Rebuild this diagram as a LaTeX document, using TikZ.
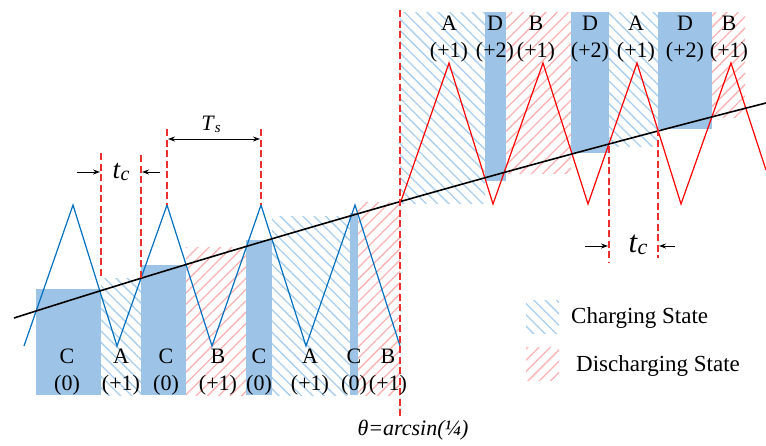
\documentclass[tikz,border=0pt]{standalone}
\usepackage{fontspec}
\setmainfont{Liberation Serif}
\usetikzlibrary{patterns.meta,arrows.meta}
\definecolor{fillblue}{RGB}{157,195,230}
\definecolor{hatchblue}{RGB}{170,206,238}
\definecolor{hatchred}{RGB}{250,178,178}
\definecolor{waveblue}{RGB}{0,112,192}
\definecolor{dashred}{RGB}{238,45,45}
\newcommand{\subtc}[3]{{\fontsize{#1}{#1}\selectfont\textit{#2}}\raisebox{-0.22em}{\fontsize{#3}{#3}\selectfont\textit{c}}}
\begin{document}
\begin{tikzpicture}[x=1pt,y=-1pt,
  chg/.style={pattern={Lines[angle=-45,distance=8pt,line width=1.3pt]},pattern color=hatchblue},
  dchg/.style={pattern={Lines[angle=45,distance=8pt,line width=1.3pt]},pattern color=hatchred},
  zerobox/.style={fill=fillblue},
  lbl/.style={font=\fontsize{22}{26}\selectfont, anchor=base, inner sep=0pt},
  leg/.style={font=\fontsize{23}{27}\selectfont, anchor=base west, inner sep=0pt},
  guide/.style={dashred, line width=1.3pt, dash pattern=on 7pt off 3.5pt},
  dimarrow/.style={line width=1pt, -{Stealth[length=7pt,width=5pt]}},
  dimboth/.style={line width=1pt, {Stealth[length=7pt,width=5pt]}-{Stealth[length=7pt,width=5pt]}},
]
\useasboundingbox (0,0) rectangle (766,445);

% ---- left region (bottom at 395)
\path[zerobox] (36,289) rectangle (101,395);
\path[chg]     (101,278) rectangle (141,395);
\path[zerobox] (141,265) rectangle (186,395);
\path[dchg]    (186,247) rectangle (246,395);
\path[zerobox] (246,240) rectangle (272,395);
\path[chg]     (272,216) rectangle (350,395);
\path[zerobox] (350,213) rectangle (358,395);
\path[dchg]    (358,202) rectangle (400,395);

% ---- right region (top at 12)
\path[chg]     (400,12) rectangle (485,203);
\path[zerobox] (485,12) rectangle (506,181);
\path[dchg]    (506,12) rectangle (571,173);
\path[zerobox] (571,12) rectangle (609,153);
\path[chg]     (609,12) rectangle (658,146);
\path[zerobox] (658,12) rectangle (712,129);
\path[dchg]    (712,12) rectangle (745,117);

% ---- carriers
\draw[waveblue, line width=1.2pt, line join=miter]
  (24,346) -- (73,205) -- (117,346) -- (167,205) -- (212,346) -- (261,205)
  -- (306,346) -- (355,205) -- (400,346);
\draw[red, line width=1.2pt, line join=miter]
  (400,204) -- (449,63) -- (493,204) -- (543,63) -- (588,204) -- (637,63)
  -- (681,204) -- (731,63) -- (766,170);

% ---- reference
\draw[black, line width=1.6pt] (14,318) .. controls (265,238) and (515,167) .. (766,103);

% ---- guide lines
\draw[guide] (101,153) -- (101,278);
\draw[guide] (141,155) -- (141,278);
\draw[guide] (167,129) -- (167,205);
\draw[guide] (261,129) -- (261,205);
\draw[guide] (400,10) -- (400,417);
\draw[guide] (609,146) -- (609,262);
\draw[guide] (658,129) -- (658,258);

% ---- dimension arrows
\coordinate (tcLa) at (77,172);  \coordinate (tcLb) at (100,172);
\coordinate (tcLc) at (160,172); \coordinate (tcLd) at (142,172);
\coordinate (tsA) at (168,139);  \coordinate (tsB) at (260,139);
\coordinate (tcRa) at (585,246); \coordinate (tcRb) at (608,246);
\coordinate (tcRc) at (675,246); \coordinate (tcRd) at (659,246);
\draw[dimarrow] (tcLa) -- (tcLb);
\draw[dimarrow] (tcLc) -- (tcLd);
\draw[dimboth] (tsA) -- (tsB);
\draw[dimarrow] (tcRa) -- (tcRb);
\draw[dimarrow] (tcRc) -- (tcRd);
\node[inner sep=0pt, anchor=center] (tcL) at (121,172) {\subtc{27}{t}{20}};
\node[inner sep=0pt, anchor=center] (ts) at (211,124)
  {{\fontsize{22}{22}\selectfont\textit{T}}\raisebox{-0.22em}{\fontsize{15}{15}\selectfont\textit{s}}};
\node[inner sep=0pt, anchor=center] (tcR) at (638,245) {\subtc{31}{t}{22}};

% ---- bottom labels
\node[lbl] (l1) at (67,363) {C};   \node[lbl] (l1v) at (67,390) {(0)};
\node[lbl] (l2) at (121,363) {A};  \node[lbl] (l2v) at (121,390) {(+1)};
\node[lbl] (l3) at (166,363) {C};  \node[lbl] (l3v) at (166,390) {(0)};
\node[lbl] (l4) at (218,363) {B};  \node[lbl] (l4v) at (218,390) {(+1)};
\node[lbl] (l5) at (259,363) {C};  \node[lbl] (l5v) at (259,390) {(0)};
\node[lbl] (l6) at (310,363) {A};  \node[lbl] (l6v) at (310,390) {(+1)};
\node[lbl] (l7) at (354,363) {C};  \node[lbl] (l7v) at (354,390) {(0)};
\node[lbl] (l8) at (388,363) {B};  \node[lbl] (l8v) at (388,390) {(+1)};

% ---- top labels
\node[lbl] (r1) at (449,30) {A};  \node[lbl] (r1v) at (449,57) {(+1)};
\node[lbl] (r2) at (495,30) {D};  \node[lbl] (r2v) at (495,57) {(+2)};
\node[lbl] (r3) at (536,30) {B};  \node[lbl] (r3v) at (536,57) {(+1)};
\node[lbl] (r4) at (590,30) {D};  \node[lbl] (r4v) at (590,57) {(+2)};
\node[lbl] (r5) at (636,30) {A};  \node[lbl] (r5v) at (636,57) {(+1)};
\node[lbl] (r6) at (685,30) {D};  \node[lbl] (r6v) at (685,57) {(+2)};
\node[lbl] (r7) at (729,30) {B};  \node[lbl] (r7v) at (729,57) {(+1)};

% ---- angle label
\node[lbl] (theta) at (413,435) {\textit{θ=arcsin(¼)}};

% ---- legend
\path[chg]  (526,300) rectangle (559,333);
\path[dchg] (526,347) rectangle (559,380);
\node[leg] (legc) at (571,323) {Charging State};
\node[leg] (legd) at (576,371) {Discharging State};
\end{tikzpicture}
\end{document}
